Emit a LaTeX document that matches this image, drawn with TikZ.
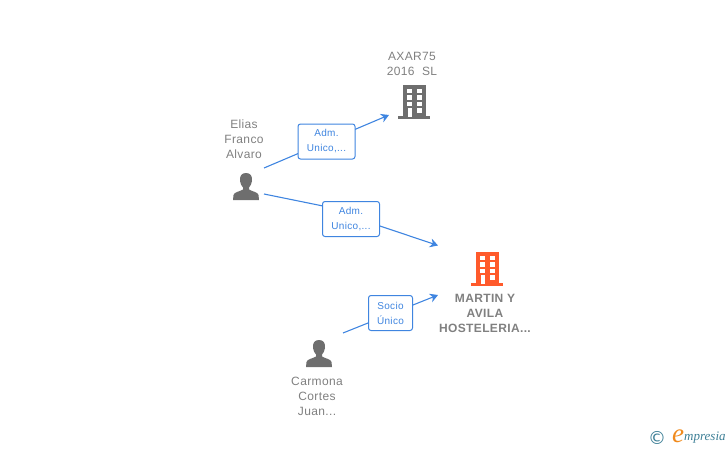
\documentclass[tikz,border=0pt]{standalone}
\usepackage{xcolor}
\usepackage{fontspec}
\setmainfont[LetterSpace=3]{Liberation Sans}
\newfontfamily\logofont{Liberation Serif}
\newfontfamily\symfont{DejaVu Sans}
\usetikzlibrary {arrows.meta,positioning}
\definecolor{linkblue}{HTML}{3F85E0}
\definecolor{labelgray}{HTML}{808080}
\definecolor{icongray}{HTML}{6E6E6E}
\definecolor{iconorange}{HTML}{FF5A2B}
\definecolor{logoteal}{HTML}{3D7F96}
\definecolor{logoorange}{HTML}{F08A1D}

\tikzset{
    namelabel/.style={font=\fontsize{12}{15}\selectfont, text=labelgray, align=center, inner sep=0pt},
    tagbox/.style={draw=linkblue, fill=white, rounded corners=2.5pt, line width=1pt, text=linkblue,
                   font=\fontsize{10}{15}\selectfont, align=center, inner sep=0pt,
                   minimum height=35pt},
    building/.pic={
        \fill[pic actions] (5,0) rectangle (28,32);
        \fill[pic actions] (0,31) rectangle (32,33.5);
        \foreach \wy in {3.5,10,16.5}{
            \fill[white] (8.5,\wy) rectangle ++(5.5,4.5);
            \fill[white] (18.5,\wy) rectangle ++(5.5,4.5);
        }
        \fill[white] (18.5,23) rectangle ++(5.5,4.5);
        \fill[white] (9.5,23) rectangle (14,32);
    },
    person/.pic={
        \fill[pic actions] (13,0) .. controls (8.5,0) and (6.5,3) .. (7,8)
            .. controls (7.5,11) and (8.5,13) .. (10,14.5)
            -- (10,16.5) .. controls (7,18.5) and (1,19) .. (0.5,22)
            -- (0,27) -- (26,27) -- (25.5,22)
            .. controls (25,19) and (19,18.5) .. (16,16.5)
            -- (16,14.5) .. controls (17.5,13) and (18.5,11) .. (19,8)
            .. controls (19.5,3) and (17.5,0) .. (13,0) -- cycle;
    }
}

\begin{document}
\begin{tikzpicture}[x=1pt, y=-1pt, >={Stealth[length=8pt,width=9pt,inset=2.5pt]}]
    \useasboundingbox (0,0) rectangle (728,450);

   % Icons
   \pic[fill=icongray] at (398,85) {building};
   \pic[fill=iconorange] at (471,252) {building};
   \pic[fill=icongray] at (233,173) {person};
   \pic[fill=icongray] at (306,340) {person};

   % Names
   \node[namelabel] (axar) at (412,63.5) {AXAR75\\2016\ \ SL};
   \node[namelabel] (elias) at (244,139) {Elias\\Franco\\Alvaro};
   \node[namelabel, font=\fontsize{12}{15}\selectfont\bfseries] (martin) at (485,313) {MARTIN Y\\AVILA\\HOSTELERIA...};
   \node[namelabel] (carmona) at (317,396) {Carmona\\Cortes\\Juan...};

   % Connector ends
   \coordinate (elias_top) at (264,168);
   \coordinate (elias_low) at (264,194);
   \coordinate (carmona_out) at (343,333);
   \coordinate (axar_in) at (389,115);
   \coordinate (martin_top) at (438,245.5);
   \coordinate (martin_low) at (438,295);
   \coordinate (adm_b_in) at (323,206);
   \coordinate (adm_b_out) at (380,226);

   % Define transitions
   \path[->, every edge/.style={draw=linkblue, line width=1.1pt}]
   (elias_top) edge node[tagbox, minimum width=57pt] (adm_a) {Adm.\\Unico,...} (axar_in)
   (adm_b_out) edge (martin_top)
   (carmona_out) edge node[tagbox, minimum width=44pt, yshift=1pt] (socio) {Socio\\Único} (martin_low);
   \path[every edge/.style={draw=linkblue, line width=1.1pt}]
   (elias_low) edge (adm_b_in);
   \node[tagbox, minimum width=57pt] (adm_b) at (351,219) {Adm.\\Unico,...};

   % Logo
   \node[inner sep=0pt, text=logoteal, font=\symfont\fontsize{18}{18}\selectfont] (copyright) at (657,438) {©};
   \node[inner sep=0pt, text=logoorange, font=\logofont\itshape\fontsize{27}{27}\selectfont] (logo_e) at (678,436) {e};
   \node[inner sep=0pt, text=logoteal, font=\logofont\itshape\fontsize{13}{13}\selectfont, anchor=west] (logo_text) at (684,438) {mpresia};
\end{tikzpicture}
\end{document}
